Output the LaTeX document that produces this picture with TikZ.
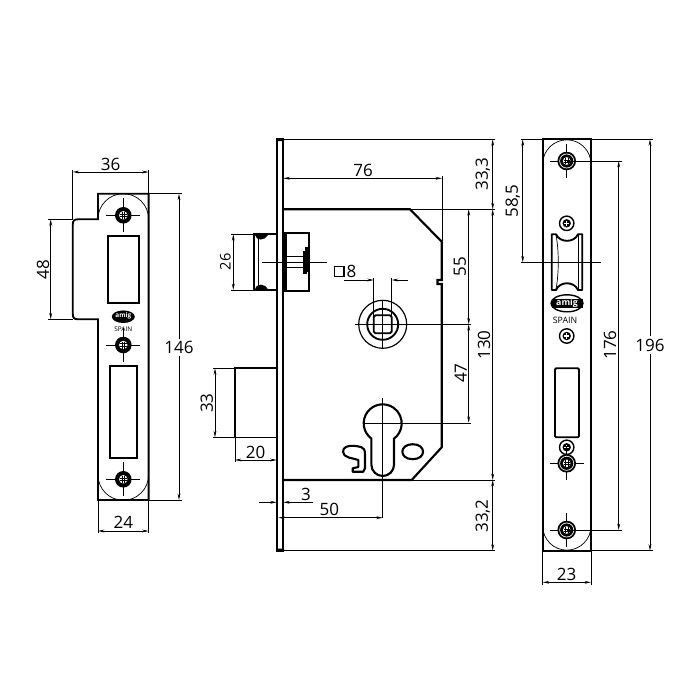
\documentclass[tikz,border=0pt]{standalone}
\usepackage{fontspec}
\setmainfont{Open Sans}
\usetikzlibrary{arrows.meta}
\tikzset{
  outline/.style={line width=1.6pt},
  slim/.style={line width=0.6pt},
  dimen/.style={line width=0.6pt,{Stealth[length=5.5pt,width=2.4pt]}-{Stealth[length=5.5pt,width=2.4pt]}},
  dimto/.style={line width=0.6pt,-{Stealth[length=5.5pt,width=2.4pt]}},
  label/.style={inner sep=0pt,font=\fontsize{14.5}{14.5}\selectfont},
  vlabel/.style={label,rotate=90}
}
% Screw with the black ring, on the strike plate
\newcommand{\strikescrew}[2]{
  \draw[slim] (#1-17,#2) -- (#1+17,#2) (#1,#2-17) -- (#1,#2+17);
  \fill (#1,#2) circle [radius=8.3];
  \fill[white] (#1,#2) circle [radius=4.2];
  \draw[line width=0.4pt] (#1-1.3,#2-3.5) -- (#1-1.3,#2+3.5) (#1+1.3,#2-3.5) -- (#1+1.3,#2+3.5)
    (#1-3.5,#2-1.3) -- (#1+3.5,#2-1.3) (#1-3.5,#2+1.3) -- (#1+3.5,#2+1.3);
}
% Fixing screw on the face plate
\newcommand{\facescrew}[2]{
  \draw[slim] (#1-17,#2) -- (#1+17,#2) (#1,#2-17) -- (#1,#2+17);
  \fill (#1,#2) circle [radius=9.3];
  \fill[white] (#1,#2) circle [radius=7.4];
  \fill (#1,#2) circle [radius=6.6];
  \fill[white] (#1,#2) circle [radius=3.8];
  \draw[line width=0.4pt] (#1-1.2,#2-3.2) -- (#1-1.2,#2+3.2) (#1+1.2,#2-3.2) -- (#1+1.2,#2+3.2)
    (#1-3.2,#2-1.2) -- (#1+3.2,#2-1.2) (#1-3.2,#2+1.2) -- (#1+3.2,#2+1.2);
}
% Small cross-head screw
\newcommand{\crossscrew}[2]{
  \draw[line width=1.2pt,fill=white] (#1,#2) circle [radius=7.2];
  \fill (#1,#2) circle [radius=4.2];
  \draw[white,line width=0.9pt] (#1-2.6,#2) -- (#1+2.6,#2) (#1,#2-2.6) -- (#1,#2+2.6);
}
\begin{document}
\begin{tikzpicture}[x=0.03cm,y=-0.03cm]
	\useasboundingbox (0,0) rectangle (700,700);
	
	% Left strike plate
	\draw[outline] (98,219.3) -- (98,193.8) -- (148.6,193.8) -- (148.6,500) -- (98,500) -- (98,319.3)
	  -- (78,319.3) .. controls (74,319.3) and (72.8,317.5) .. (72.8,314) -- (72.8,224.5)
	  .. controls (72.8,221) and (74,219.3) .. (78,219.3) -- cycle;
	\draw[slim] (98,219) arc [start angle=180,end angle=360,radius=25.3];
	\draw[slim] (98,475) arc [start angle=180,end angle=0,radius=25.3];
	\draw[outline] (107.7,236) rectangle (139.3,303.3);
	\draw[outline] (110,365.7) rectangle (137,458.3);
	\foreach \posY in {215.3,345,479.3} {
		\strikescrew{123.3}{\posY}
	}
	\fill (123.3,316.7) ellipse [x radius=11.5,y radius=6.3];
	\node[white,inner sep=0pt,font=\bfseries\fontsize{5.5}{6}\selectfont] (logoLeft) at (123.3,316.2) {amig};
	\node[inner sep=0pt,font=\fontsize{5.5}{6}\selectfont] (spainLeft) at (123.3,328.7) {SPAIN};
	
	% Dimensions of the strike plate
	\draw[slim] (72.8,170) -- (72.8,219) (148.6,170) -- (148.6,194);
	\draw[dimen] (72.8,172) -- (148.6,172);
	\node[label] (dimA) at (110.5,164) {36};
	\draw[slim] (48,219.3) -- (73,219.3) (48,319.3) -- (73,319.3);
	\draw[dimen] (50.7,219.3) -- (50.7,319.3);
	\node[vlabel] (dimB) at (43,269.3) {48};
	\draw[slim] (148.6,193.8) -- (181.7,193.8) (148.6,500) -- (181.7,500);
	\draw[dimto] (179,339) -- (179,193.8);
	\draw[dimto] (179,356) -- (179,500);
	\node[label] (dimC) at (179,347) {146};
	\draw[slim] (98,500) -- (98,533) (148.6,500) -- (148.6,533);
	\draw[dimen] (98,531) -- (148.6,531);
	\node[label] (dimD) at (123.3,522.7) {24};
	
	% Lock case and fore end
	\draw[outline] (276.7,139.3) rectangle (283.3,550.7);
	\fill (276,138.6) rectangle (284,141) (276,548.5) rectangle (284,551.4);
	\draw[line width=1.8pt] (283.3,209.3) -- (410,209.3) -- (441.7,241.7) -- (441.7,280) -- (437.5,280)
	  -- (437.5,284) -- (441.7,284) -- (441.7,447.3) -- (411.7,480) -- (283.3,480);
	\draw[slim] (283.3,139.4) -- (495,139.4) (283.3,550.7) -- (495,550.7);
	\draw[slim] (410,209.3) -- (495,209.3) (411.7,480) -- (495,480);
	
	% Latch
	\draw[outline] (276.7,234.3) -- (254.3,234.3) -- (254.3,290) -- (276.7,290);
	\draw[line width=0.8pt] (258,238) -- (258,286);
	\fill (255,235) .. controls (256,241) and (265,241) .. (268,235) -- cycle;
	\fill (255,289.5) .. controls (256,283) and (265,283) .. (268,289.5) -- cycle;
	\draw[outline] (284,233.3) rectangle (309,291);
	\fill (283.3,233) rectangle (287,291.5);
	\fill (303.3,251) rectangle (307,274);
	\fill (305,246.5) rectangle (307.5,272);
	\draw[line width=1pt] (285,256.7) -- (303.5,256.7) (285,267.3) -- (303.5,267.3);
	\draw[slim] (262.3,262) -- (326.7,262);
	\draw[slim] (231,234.3) -- (254.3,234.3) (231,290) -- (254.3,290);
	\draw[dimen] (233.3,234.3) -- (233.3,290);
	\node[vlabel,font=\fontsize{12.5}{12.5}\selectfont] (dimE) at (225.5,261.7) {26};
	
	% Dead bolt
	\draw[outline] (276.7,368.3) -- (235,368.3) -- (235,437.3);
	\draw[line width=1pt] (235,437.3) -- (276.7,437.3);
	\draw[slim] (213,368.3) -- (235,368.3) (213,437.3) -- (235,437.3) (235,437.3) -- (235,462);
	\draw[dimen] (215,368.3) -- (215,437.3);
	\node[vlabel] (dimF) at (206.7,403) {33};
	\draw[dimen] (235,460) -- (276.7,460);
	\node[label] (dimG) at (255.7,452) {20};
	
	% Follower
	\def\follX{382.7}
	\def\follY{324.3}
	\draw[line width=1pt] (\follX,\follY) circle [radius=24];
	\draw[outline] (\follX,\follY) circle [radius=15.5];
	\draw[outline,rounded corners=1.5pt] (\follX-9,\follY-9) rectangle (\follX+9,\follY+9);
	\draw[slim] (\follX,300) -- (\follX,349);
	\draw[slim] (355,\follY) -- (470.7,\follY);
	\draw[slim] (373.7,278) -- (373.7,\follY) (391.7,278) -- (391.7,\follY);
	\draw[dimto] (344,280) -- (373.7,280);
	\draw[dimto] (408,280) -- (391.7,280);
	\draw[outline] (334.5,266.5) rectangle (344,276.5);
	\node[label] (dimH) at (351.5,271) {8};
	
	% Cylinder hole, hook and oval
	\def\cylX{382.7}
	\def\cylY{423.3}
	\draw[line width=1.8pt] (371.4,438.6) arc [start angle=126.5,end angle=413.5,radius=19] -- (394,464.7)
	  arc [start angle=0,end angle=180,radius=11.3] -- cycle;
	\draw[slim] (\cylX,398) -- (\cylX,518);
	\draw[slim] (362.7,\cylY) -- (470.7,\cylY);
	\draw[line width=1.8pt] (412.7,444.2) .. controls (426.5,444.2) and (426.5,459.2) .. (412.7,459.2)
	  .. controls (398.9,459.2) and (398.9,444.2) .. (412.7,444.2) -- cycle;
	\draw[line width=1.8pt,line join=round] (352.7,471.7) -- (352.7,468.3) -- (358.3,467) -- (358.3,460)
	  .. controls (353,458) and (343,458) .. (343,451.7) .. controls (343,447) and (348,445.5) .. (353,445.8)
	  .. controls (358,446) and (360,447) .. (361,447) .. controls (364,447.5) and (365,450) .. (365,455)
	  -- (365,468.3) -- (363.3,471.7) -- cycle;
	
	% Dimensions of the case
	\draw[slim] (442,176) -- (442,241);
	\draw[dimen] (283.3,178.3) -- (442,178.3);
	\node[label] (dimI) at (363,170) {76};
	\draw[dimen] (492.7,139.4) -- (492.7,209.3);
	\node[vlabel] (dimJ) at (482.7,174) {33,3};
	\draw[dimen] (468.7,209.3) -- (468.7,324.3);
	\node[vlabel] (dimK) at (460,266.7) {55};
	\draw[dimen] (468.7,324.3) -- (468.7,422.7);
	\node[vlabel] (dimL) at (460.7,373) {47};
	\draw[dimen] (492.7,209.3) -- (492.7,480);
	\node[vlabel] (dimM) at (484,345) {130};
	\draw[dimen] (492.7,480) -- (492.7,550.7);
	\node[vlabel] (dimN) at (482.7,516) {33,2};
	\draw[dimto] (259.3,502.3) -- (276.7,502.3);
	\draw[dimto] (313.3,502.3) -- (283.3,502.3);
	\node[label] (dimO) at (306,494) {3};
	\draw[dimen] (278.3,517.7) -- (382.7,517.7);
	\node[label] (dimP) at (329.3,509.3) {50};
	
	% Face plate
	\draw[outline] (542.7,139.3) rectangle (591,550.7);
	\draw[slim] (542.7,164) arc [start angle=180,end angle=360,radius=24.15];
	\draw[slim] (542.7,526) arc [start angle=180,end angle=0,radius=24.15];
	
	% Latch opening
	\draw[outline,line join=round] (551.7,234.3) -- (556,234.3) .. controls (560,243) and (574,243) .. (578,234.3)
	  -- (582.3,234.3) -- (582.3,290) -- (578,290) .. controls (574,281) and (560,281) .. (556,290)
	  -- (551.7,290) -- cycle;
	\draw[slim] (556,235) .. controls (559,250) and (559,274) .. (556,289);
	\draw[slim] (578,235) -- (578,289);
	\draw[slim] (521,262.3) -- (601,262.3);
	\draw[outline,rounded corners=1pt] (555,368.3) rectangle (579,437.3);
	
	% Screws and logo of the face plate
	\foreach \posY in {161,530} {
		\facescrew{566.7}{\posY}
	}
	\foreach \posY in {223.3,336} {
		\crossscrew{566.7}{\posY}
	}
	\crossscrew{566.7}{447.3}
	\facescrew{566.7}{463.3}
	\draw[line width=1.2pt] (567,303.3) ellipse [x radius=16,y radius=8.5];
	\fill (551.5,299) rectangle (582.5,307.5);
	\node[white,inner sep=0pt,font=\bfseries\fontsize{7.5}{8}\selectfont] (logoRight) at (567,302.8) {amig};
	\node[inner sep=0pt,font=\fontsize{7.5}{8}\selectfont] (spainRight) at (565,320.7) {SPAIN};
	
	% Dimensions of the face plate
	\draw[slim] (520.7,139.4) -- (543,139.4);
	\draw[dimen] (522.7,139.4) -- (522.7,262.3);
	\node[vlabel] (dimQ) at (512.7,201) {58,5};
	\draw[slim] (566.7,161) -- (621.7,161) (566.7,530) -- (621.7,530);
	\draw[dimen] (618.7,161) -- (618.7,530);
	\node[vlabel] (dimR) at (610,345) {176};
	\draw[slim] (591,139.4) -- (653,139.4) (591,550.7) -- (653,550.7);
	\draw[dimto] (650,336) -- (650,139.4);
	\draw[dimto] (650,354) -- (650,550.7);
	\node[label] (dimS) at (650,345) {196};
	\draw[slim] (542.7,550.7) -- (542.7,585) (591,550.7) -- (591,585);
	\draw[dimen] (542.7,582.3) -- (591,582.3);
	\node[label] (dimT) at (566.7,574) {23};
\end{tikzpicture}
\end{document}
